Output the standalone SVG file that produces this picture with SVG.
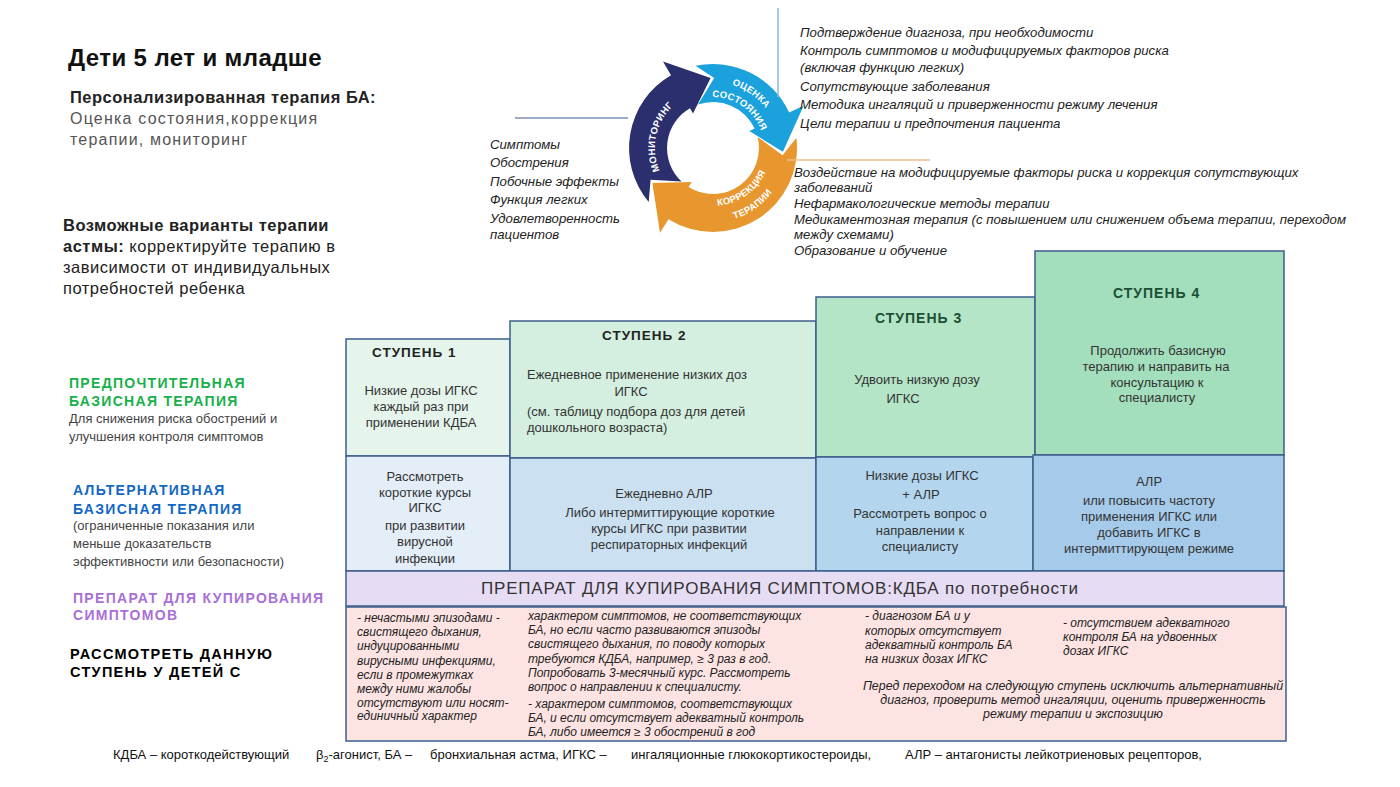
<svg xmlns="http://www.w3.org/2000/svg" width="1400" height="787" viewBox="0 0 1400 787">
<style>
text{font-family:"Liberation Sans",Arial,sans-serif}
.it{font-style:italic;font-size:13.2px;fill:#222}
.bx{stroke:#3d5e8c;stroke-width:1.5}
.c{text-anchor:middle}
.bt{font-size:13px;fill:#333}
.hd{font-weight:bold;font-size:13.5px;letter-spacing:1px;fill:#222}
.hg{font-weight:bold;font-size:14px;letter-spacing:1px;fill:#1d4f35}
.pk{font-style:italic;font-size:12px;fill:#222}
.ct{font-weight:bold;font-size:9.5px;fill:#fff;letter-spacing:0.3px}
.lb{font-weight:bold;font-size:14px;letter-spacing:1.3px}
.ld{font-size:13px;fill:#444}
.ft{font-size:13px;fill:#111}
</style>
<defs>
<path id="pMon" d="M670.6,187.6 A58,58 0 0 1 690.3,94.6"/>
<path id="pOc" d="M707.2,82.3 A66,66 0 0 1 776.7,130.9"/>
<path id="pSo" d="M708.6,97.2 A51,51 0 0 1 762.3,134.8"/>
<path id="pKo" d="M702.9,205.1 A58,58 0 0 0 770.1,158.1"/>
<path id="pTe" d="M700.2,220.9 A74,74 0 0 0 785.9,160.8"/>
</defs>
<rect width="1400" height="787" fill="#fff"/>

<g id="title">
<text x="68" y="66" style="font-size:24px;font-weight:bold;fill:#111;letter-spacing:0.4px">Дети 5 лет и младше</text>
<text x="70" y="103" style="font-size:16.5px;font-weight:bold;fill:#222;letter-spacing:0.5px">Персонализированная терапия БА:</text>
<text x="70" y="124" style="font-size:16px;fill:#555;letter-spacing:1.2px">Оценка состояния,коррекция</text>
<text x="70" y="145" style="font-size:16px;fill:#555;letter-spacing:1.2px">терапии, мониторинг</text>
</g>

<g id="options-intro" style="font-size:16.5px;fill:#222;letter-spacing:0.5px">
<text x="63" y="231" font-weight="bold">Возможные варианты терапии</text>
<text x="63" y="252"><tspan font-weight="bold">астмы:</tspan> корректируйте терапию в</text>
<text x="63" y="273">зависимости от индивидуальных</text>
<text x="63" y="294">потребностей ребенка</text>
</g>

<g id="cycle">
<path id="arrow-monitoring" fill="#2b2f6e" d="M648.7,202 A84,84 0 0 1 671,75.3 L663,61.4 L710.6,78 L693,113.4 L690,108.2 A46,46 0 0 0 681.6,181.6 L650.6,179.8 Z"/>
<path id="arrow-assess" fill="#1ba1dc" d="M695.5,65.8 A84,84 0 0 1 789.1,112.5 L803.6,105.7 L782.9,151.7 L749.3,131.1 L754.7,128.6 A46,46 0 0 0 698,104.5 L714.2,78 Z"/>
<path id="arrow-adjust" fill="#e8962e" d="M796.4,137.8 A84,84 0 0 1 668.5,219.2 L660,232.8 L652.4,183 L691.8,181.9 L688.6,187 A46,46 0 0 0 757.6,136.9 L782.6,155.3 Z"/>
<text class="ct"><textPath href="#pMon" startOffset="50%" text-anchor="middle">МОНИТОРИНГ</textPath></text>
<text class="ct"><textPath href="#pOc" startOffset="50%" text-anchor="middle">ОЦЕНКА</textPath><textPath href="#pSo" startOffset="50%" text-anchor="middle">СОСТОЯНИЯ</textPath></text>
<text class="ct"><textPath href="#pKo" startOffset="50%" text-anchor="middle">КОРРЕКЦИЯ</textPath><textPath href="#pTe" startOffset="50%" text-anchor="middle">ТЕРАПИИ</textPath></text>
</g>

<g id="connectors" fill="none" stroke-width="1.5">
<line x1="515" y1="118" x2="628" y2="118" stroke="#7f90b4"/>
<line x1="778" y1="8" x2="778" y2="97" stroke="#8db8dc"/>
<line x1="787" y1="160" x2="930" y2="160" stroke="#efbd8e"/>
</g>

<g id="monitoring-list" class="it">
<text x="490" y="149">Симптомы</text>
<text x="490" y="167">Обострения</text>
<text x="490" y="186">Побочные эффекты</text>
<text x="490" y="204">Функция легких</text>
<text x="490" y="223">Удовлетворенность</text>
<text x="490" y="239">пациентов</text>
</g>

<g id="assess-list" class="it">
<text x="800" y="37">Подтверждение диагноза, при необходимости</text>
<text x="800" y="55">Контроль симптомов и модифицируемых факторов риска</text>
<text x="800" y="72">(включая функцию легких)</text>
<text x="800" y="91">Сопутствующие заболевания</text>
<text x="800" y="109">Методика ингаляций и приверженности режиму лечения</text>
<text x="800" y="128">Цели терапии и предпочтения пациента</text>
</g>

<g id="adjust-list" class="it">
<text x="794" y="177">Воздействие на модифицируемые факторы риска и коррекция сопутствующих</text>
<text x="794" y="192">заболеваний</text>
<text x="794" y="208">Нефармакологические методы  терапии</text>
<text x="794" y="224">Медикаментозная терапия (с повышением или снижением объема терапии, переходом</text>
<text x="794" y="239">между схемами)</text>
<text x="794" y="255">Образование и обучение</text>
</g>

<g id="row-labels">
<text class="lb" x="69" y="388" fill="#18b04b">ПРЕДПОЧТИТЕЛЬНАЯ</text>
<text class="lb" x="69" y="406" fill="#18b04b">БАЗИСНАЯ ТЕРАПИЯ</text>
<text class="ld" x="69" y="423">Для  снижения риска обострений и</text>
<text class="ld" x="69" y="441">улучшения контроля симптомов</text>
<text class="lb" x="73" y="495" fill="#1268c4">АЛЬТЕРНАТИВНАЯ</text>
<text class="lb" x="73" y="514" fill="#1268c4">БАЗИСНАЯ ТЕРАПИЯ</text>
<text class="ld" x="73" y="530" fill="#111">(ограниченные показания или</text>
<text class="ld" x="73" y="548" fill="#111">меньше доказательств</text>
<text class="ld" x="73" y="566" fill="#111">эффективности или безопасности)</text>
<text class="lb" x="73" y="603" fill="#a86fd6">ПРЕПАРАТ ДЛЯ КУПИРОВАНИЯ</text>
<text class="lb" x="73" y="620" fill="#a86fd6">СИМПТОМОВ</text>
<text class="lb" x="70" y="659" fill="#000" style="font-size:14.5px">РАССМОТРЕТЬ ДАННУЮ</text>
<text class="lb" x="70" y="677" fill="#000" style="font-size:14.5px">СТУПЕНЬ У ДЕТЕЙ С</text>
</g>

<g id="step1">
<rect class="bx" x="346" y="339" width="164" height="117" fill="#e6f5eb"/>
<text class="hd" x="372" y="357">СТУПЕНЬ 1</text>
<text class="bt c" x="421" y="395">Низкие дозы ИГКС</text>
<text class="bt c" x="421" y="411">каждый раз при</text>
<text class="bt c" x="421" y="427">применении КДБА</text>
</g>
<g id="step1-alt">
<rect class="bx" x="346" y="456" width="164" height="115" fill="#e4eef8"/>
<text class="bt c" x="425" y="481">Рассмотреть</text>
<text class="bt c" x="425" y="497">короткие курсы</text>
<text class="bt c" x="425" y="512">ИГКС</text>
<text class="bt c" x="425" y="530">при развитии</text>
<text class="bt c" x="425" y="546">вирусной</text>
<text class="bt c" x="425" y="563">инфекции</text>
</g>

<g id="step2">
<rect class="bx" x="510" y="321" width="306" height="137" fill="#d4efdf"/>
<text class="hd" x="602" y="340">СТУПЕНЬ 2</text>
<text class="bt" x="527" y="379">Ежедневное применение низких доз</text>
<text class="bt c" x="631" y="396">ИГКС</text>
<text class="bt" x="527" y="416">(см. таблицу подбора доз для детей</text>
<text class="bt" x="527" y="432">дошкольного возраста)</text>
</g>
<g id="step2-alt">
<rect class="bx" x="510" y="458" width="306" height="113" fill="#cbe0f0"/>
<text class="bt c" x="664" y="498">Ежедневно АЛР</text>
<text class="bt c" x="670" y="517">Либо  интермиттирующие короткие</text>
<text class="bt c" x="669" y="533">курсы ИГКС при развитии</text>
<text class="bt c" x="669" y="549">респираторных инфекций</text>
</g>

<g id="step3">
<rect class="bx" x="816" y="297" width="219" height="160" fill="#b4e5c7"/>
<text class="hg" x="875" y="323">СТУПЕНЬ 3</text>
<text class="bt c" x="917" y="384">Удвоить низкую дозу</text>
<text class="bt c" x="903" y="403">ИГКС</text>
</g>
<g id="step3-alt">
<rect class="bx" x="816" y="457" width="217" height="114" fill="#b3d5ee"/>
<text class="bt c" x="922" y="480">Низкие дозы ИГКС</text>
<text class="bt c" x="921" y="499">+ АЛР</text>
<text class="bt c" x="920" y="518">Рассмотреть вопрос о</text>
<text class="bt c" x="920" y="535">направлении к</text>
<text class="bt c" x="920" y="551">специалисту</text>
</g>

<g id="step4">
<rect class="bx" x="1035" y="251" width="249" height="204" fill="#a3dfbc"/>
<text class="hg" x="1113" y="298">СТУПЕНЬ 4</text>
<text class="bt c" x="1158" y="355">Продолжить базисную</text>
<text class="bt c" x="1156" y="371">терапию и направить на</text>
<text class="bt c" x="1157" y="387">консультацию к</text>
<text class="bt c" x="1157" y="402">специалисту</text>
</g>
<g id="step4-alt">
<rect class="bx" x="1033" y="455" width="251" height="116" fill="#a6cbea"/>
<text class="bt c" x="1149" y="486">АЛР</text>
<text class="bt c" x="1149" y="505">или повысить частоту</text>
<text class="bt c" x="1149" y="521">применения ИГКС или</text>
<text class="bt c" x="1149" y="537">добавить ИГКС в</text>
<text class="bt c" x="1149" y="553">интермиттирующем режиме</text>
</g>

<g id="reliever">
<rect class="bx" x="346" y="571" width="938" height="35" fill="#e6dcf3"/>
<text x="481" y="594" style="font-size:17px;fill:#333;letter-spacing:0.8px">ПРЕПАРАТ ДЛЯ КУПИРОВАНИЯ СИМПТОМОВ:КДБА по потребности</text>
</g>

<g id="consider">
<rect class="bx" x="346" y="607" width="940" height="134" fill="#fde4e2"/>
<g class="pk">
<text x="357" y="622">- нечастыми эпизодами   -</text>
<text x="357" y="636">свистящего дыхания,</text>
<text x="357" y="650">индуцированными</text>
<text x="357" y="665">вирусными инфекциями,</text>
<text x="357" y="679">если в промежутках</text>
<text x="357" y="693">между ними жалобы</text>
<text x="357" y="707">отсутствуют или носят-</text>
<text x="357" y="720">единичный характер</text>
<text x="528" y="620">характером симптомов, не соответствующих</text>
<text x="528" y="634">БА, но если часто развиваются эпизоды</text>
<text x="528" y="648">свистящего дыхания, по поводу которых</text>
<text x="528" y="663">требуются КДБА, например, ≥ 3 раз в год.</text>
<text x="528" y="677">Попробовать 3-месячный курс. Рассмотреть</text>
<text x="528" y="691">вопрос о направлении к специалисту.</text>
<text x="528" y="708">- характером симптомов, соответствующих</text>
<text x="528" y="722">БА, и если отсутствует адекватный контроль</text>
<text x="528" y="736">БА, либо имеется ≥ 3 обострений в год</text>
<text x="865" y="620">- диагнозом БА и у</text>
<text x="865" y="635">которых отсутствует</text>
<text x="865" y="649">адекватный контроль БА</text>
<text x="865" y="663">на низких дозах ИГКС</text>
<text x="1063" y="627">- отсутствием адекватного</text>
<text x="1063" y="641">контроля БА на удвоенных</text>
<text x="1063" y="655">дозах ИГКС</text>
<text class="c" x="1073" y="690" style="font-size:12.4px">Перед переходом на следующую ступень исключить альтернативный</text>
<text class="c" x="1073" y="704" style="font-size:12.4px">диагноз, проверить метод ингаляции, оценить приверженность</text>
<text class="c" x="1073" y="718" style="font-size:12.4px">режиму терапии и экспозицию</text>
</g>
</g>

<g id="footer" class="ft">
<text x="113" y="759">КДБА – короткодействующий</text>
<text x="316" y="759">β<tspan font-size="9" dy="3">2</tspan><tspan dy="-3">-агонист, БА –</tspan></text>
<text x="430" y="759">бронхиальная астма, ИГКС –</text>
<text x="631" y="759">ингаляционные глюкокортикостероиды,</text>
<text x="905" y="759">АЛР – антагонисты лейкотриеновых рецепторов,</text>
</g>
</svg>
